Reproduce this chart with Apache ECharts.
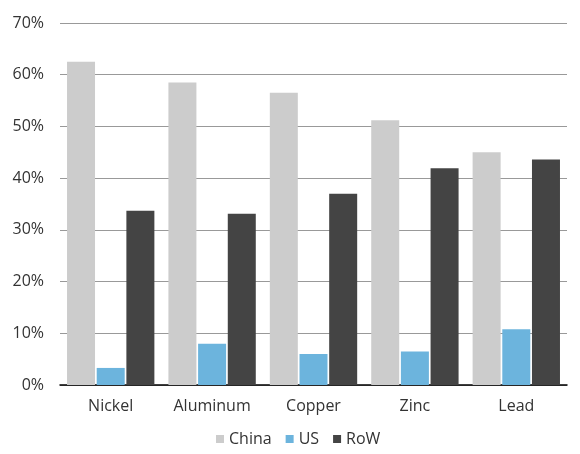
<!DOCTYPE html>
<html>
<head>
<meta charset="utf-8">
<script src="https://cdn.jsdelivr.net/npm/echarts@6/dist/echarts.min.js"></script>
<style>
    html, body { margin: 0; padding: 0; background: #fff; }
    #chart { width: 580px; height: 454px; }
</style>
</head>
<body>
<div id="chart"></div>
<script>
// 数据
var metals = ['Nickel', 'Aluminum', 'Copper', 'Zinc', 'Lead'];
var china = [62.5, 58.5, 56.5, 51.2, 45.0];
var us = [3.3, 8.0, 6.0, 6.5, 10.8];
var row = [33.7, 33.1, 37.0, 41.9, 43.6];
var yTicks = [0, 10, 20, 30, 40, 50, 60, 70];

var font = '"Open Sans", sans-serif';

var chart = echarts.init(document.getElementById('chart'));
chart.setOption({
    animation: false,
    textStyle: { fontFamily: font },
    legend: {
        data: ['China', 'US', 'RoW'],
        bottom: 2,
        left: 211,
        icon: 'rect',
        itemWidth: 8,
        itemHeight: 8,
        itemGap: 14,
        textStyle: { fontSize: 16, color: '#333', fontFamily: font }
    },
    grid: {
        left: 60,
        right: 13,
        top: 23,
        bottom: 69,
        containLabel: false
    },
    xAxis: {
        type: 'category',
        data: metals,
        axisLine: { lineStyle: { color: '#000', width: 1.5 } },
        axisTick: { show: false },
        axisLabel: { fontSize: 16, color: '#333', margin: 13, fontFamily: font }
    },
    yAxis: {
        type: 'value',
        min: yTicks[0],
        max: yTicks[yTicks.length - 1],
        interval: 10,
        axisLine: { show: false },
        axisTick: { show: false },
        axisLabel: {
            fontSize: 16, color: '#333', margin: 16, fontFamily: font,
            formatter: function (v) { return v + '%'; }
        },
        splitLine: { lineStyle: { color: '#999', width: 1 } }
    },
    series: [
        { name: 'China', type: 'bar', data: china, barWidth: 28, barGap: '6%', itemStyle: { color: '#cccccc' } },
        { name: 'US', type: 'bar', data: us, barWidth: 28, barGap: '6%', itemStyle: { color: '#6cb4dd' } },
        { name: 'RoW', type: 'bar', data: row, barWidth: 28, barGap: '6%', itemStyle: { color: '#444444' } }
    ]
});
</script>
</body>
</html>
